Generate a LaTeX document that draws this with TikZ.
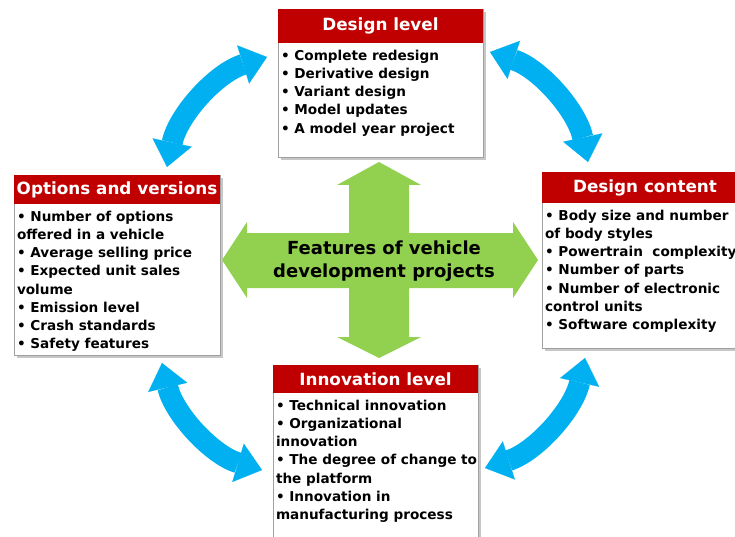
\documentclass[tikz,border=0pt]{standalone}
\usepackage{fontspec}
\setmainfont{DejaVu Sans}
\usetikzlibrary{positioning,arrows.meta}

\definecolor{headred}{RGB}{192,0,0}
\definecolor{crossgreen}{RGB}{146,208,80}
\definecolor{arrowblue}{RGB}{0,176,240}
\definecolor{framegray}{RGB}{160,160,160}

\tikzset{
  headbox/.style={fill=headred,text=white,inner sep=0pt,font=\bfseries\fontsize{16.8}{18}\selectfont},
  itemtext/.style={anchor=north west,align=left,inner xsep=3pt,inner ysep=6.5pt,font=\bfseries\fontsize{13.6}{18.2}\selectfont},
  boxframe/.style={draw=framegray,fill=white,line width=0.8pt},
  boxshadow/.style={fill=black!22},
  twoway/.style={draw=arrowblue,line width=21pt,
    {Triangle[width=40pt,length=25pt,line width=0.1pt]}-{Triangle[width=40pt,length=25pt,line width=0.1pt]}},
}

\begin{document}
\begin{tikzpicture}[x=1pt,y=-1pt]
        \useasboundingbox (0,0) rectangle (735,537);

        % box frames with shadow
        \fill[boxshadow] (281,12) rectangle (486,160);
        \draw[boxframe] (278,9) rectangle (483,157);
        \fill[boxshadow] (17,178) rectangle (223,358);
        \draw[boxframe] (14,175) rectangle (220,355);
        \fill[boxshadow] (545,175) rectangle (751,351);
        \draw[boxframe] (542,172) rectangle (748,348);
        \fill[boxshadow] (276,368) rectangle (481,548);
        \draw[boxframe] (273,365) rectangle (478,545);

        % design level
        \node[headbox,minimum width=205pt,minimum height=34pt] (dlhead) at (380.5,26) {Design level};
        \node[itemtext] (dlitems) at (dlhead.south west) {• Complete redesign\\• Derivative design\\• Variant design\\• Model updates\\• A model year project};

        % options and versions
        \node[headbox,minimum width=206pt,minimum height=29pt] (ovhead) at (117,189.5) {Options and versions};
        \node[itemtext] (ovitems) at (ovhead.south west) {• Number of options\\offered in a vehicle\\• Average selling price\\• Expected unit sales\\volume\\• Emission level\\• Crash standards\\• Safety features};

        % design content
        \node[headbox,minimum width=206pt,minimum height=31pt] (dchead) at (645,187.5) {Design content};
        \node[itemtext] (dcitems) at (dchead.south west) {• Body size and number\\of body styles\\• Powertrain\ \ complexity\\• Number of parts\\• Number of electronic\\control units\\• Software complexity};

        % innovation level
        \node[headbox,minimum width=205pt,minimum height=28pt] (ilhead) at (375.5,379) {Innovation level};
        \node[itemtext] (ilitems) at (ilhead.south west) {• Technical innovation\\• Organizational\\innovation\\• The degree of change to\\the platform\\• Innovation in\\manufacturing process};

        % four way arrow in the middle
        \fill[crossgreen] (379,162) -- (421,185) -- (409,185) -- (409,233) -- (513,233) -- (513,222)
          -- (538,260) -- (513,298) -- (513,288) -- (409,288) -- (409,337) -- (421,337) -- (379,358)
          -- (337,337) -- (349,337) -- (349,288) -- (247,288) -- (247,298) -- (222,260) -- (247,222)
          -- (247,233) -- (349,233) -- (349,185) -- (337,185) -- cycle;
        \node[align=center,font=\bfseries\fontsize{18}{23}\selectfont] (feat) at (384,261) {Features of vehicle\\development projects};

        % curved arrows between the boxes
        \coordinate (ovup) at (167,167);
        \coordinate (dlleft) at (267,57);
        \coordinate (dlright) at (490,52);
        \coordinate (dcup) at (588,162);
        \coordinate (dcdown) at (585,358);
        \coordinate (ilright) at (485,468);
        \coordinate (illeft) at (262,470);
        \coordinate (ovdown) at (162,363);
        \draw[twoway] (ovup) .. controls (178,115) and (216,73) .. (dlleft);
        \draw[twoway] (dlright) .. controls (540,68.5) and (577,110.5) .. (dcup);
        \draw[twoway] (dcdown) .. controls (573.5,410) and (535.5,452) .. (ilright);
        \draw[twoway] (ovdown) .. controls (174,414) and (212,455) .. (illeft);
\end{tikzpicture}
\end{document}
